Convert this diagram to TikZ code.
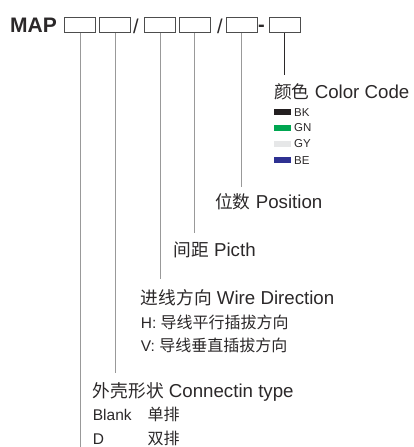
\documentclass[tikz,border=0pt]{standalone}
\usepackage{fontspec}
\setmainfont{Liberation Sans}
\newfontfamily\cjk{Noto Sans CJK SC}
\definecolor{txt}{HTML}{2B2829}
\definecolor{boxc}{HTML}{4D4D4D}
\definecolor{leadc}{HTML}{999999}
\definecolor{cBK}{HTML}{231F20}
\definecolor{cGN}{HTML}{00A651}
\definecolor{cGY}{HTML}{E6E7E8}
\definecolor{cBE}{HTML}{2E3192}
\newcommand{\bigcjk}[1]{{\cjk\fontsize{17.7}{20}\selectfont #1}}
\newcommand{\smallcjk}[1]{{\cjk\fontsize{16}{18}\selectfont #1}}
\begin{document}
\begin{tikzpicture}[x=1pt,y=-1pt,
  slot/.style={draw=boxc, line width=0.9pt, minimum width=31pt, minimum height=15pt, inner sep=0pt},
  lead/.style={draw=leadc, line width=0.9pt},
  colorlead/.style={draw=txt, line width=0.9pt},
  lab/.style={anchor=base west, inner sep=0pt, text=txt, font=\fontsize{18.7}{20}\selectfont},
  sub/.style={anchor=base west, inner sep=0pt, text=txt, font=\fontsize{15.5}{17}\selectfont},
  code/.style={anchor=base west, inner sep=0pt, text=txt, font=\fontsize{11.5}{13}\selectfont},
  swatch/.style={minimum width=16.7pt, minimum height=6pt, inner sep=0pt, anchor=west},
  sep/.style={anchor=base, inner sep=0pt, text=txt, font=\fontsize{20}{22}\selectfont}]
\useasboundingbox (0,0) rectangle (413,447);

\node[anchor=base west, inner sep=0pt, text=txt, font=\bfseries\fontsize{21}{22}\selectfont] (map) at (10,32.7) {MAP};

\node[slot] (b1) at (80,25) {};
\node[slot] (b2) at (115,25) {};
\node[sep] (s1) at (135.8,33.5) {/};
\node[slot] (b3) at (160,25) {};
\node[slot] (b4) at (194.5,25) {};
\node[sep] (s2) at (220,33.5) {/};
\node[slot] (b5) at (241.7,25) {};
\node[sep, font=\bfseries\fontsize{20}{22}\selectfont] (dash) at (261.5,31.5) {-};
\node[slot] (b6) at (284.5,25) {};

% labels
\node[lab] (cc) at (274,98.5) {\bigcjk{颜色} Color Code};
\node[swatch, fill=cBK] (k1) at (274,112) {};
\node[code] (t1) at (294,116) {BK};
\node[swatch, fill=cGN] (k2) at (274,127.7) {};
\node[code] (t2) at (294,131.7) {GN};
\node[swatch, fill=cGY] (k3) at (274,144) {};
\node[code] (t3) at (294,147.7) {GY};
\node[swatch, fill=cBE] (k4) at (274,160.3) {};
\node[code] (t4) at (294,164.3) {BE};

\node[lab] (pos) at (215,208.3) {\bigcjk{位数} Position};
\node[lab] (pit) at (173.3,256.7) {\bigcjk{间距} Picth};
\node[lab] (wd) at (140.7,304) {\bigcjk{进线方向} Wire Direction};
\node[sub] (wdh) at (140.7,328.3) {H: \smallcjk{导线平行插拔方向}};
\node[sub] (wdv) at (140.7,351) {V: \smallcjk{导线垂直插拔方向}};
\node[lab] (ct) at (92.7,397.3) {\bigcjk{外壳形状} Connectin type};
\node[sub] (ctb) at (92.7,420) {\makebox[54.6pt][l]{Blank}\smallcjk{单排}};
\node[sub] (ctd) at (92.7,444) {\makebox[54.6pt][l]{D}\smallcjk{双排}};

% lead ends
\coordinate (e1) at (80,447);
\coordinate (e2) at (115,373);
\coordinate (e3) at (160,279);
\coordinate (e4) at (194.5,233);
\coordinate (e5) at (241.7,187);
\coordinate (e6) at (284.5,75);

\draw[lead] (b1.south) -- (e1);
\draw[lead] (b2.south) -- (e2);
\draw[lead] (b3.south) -- (e3);
\draw[lead] (b4.south) -- (e4);
\draw[lead] (b5.south) -- (e5);
\draw[colorlead] (b6.south) -- (e6);
\end{tikzpicture}
\end{document}
